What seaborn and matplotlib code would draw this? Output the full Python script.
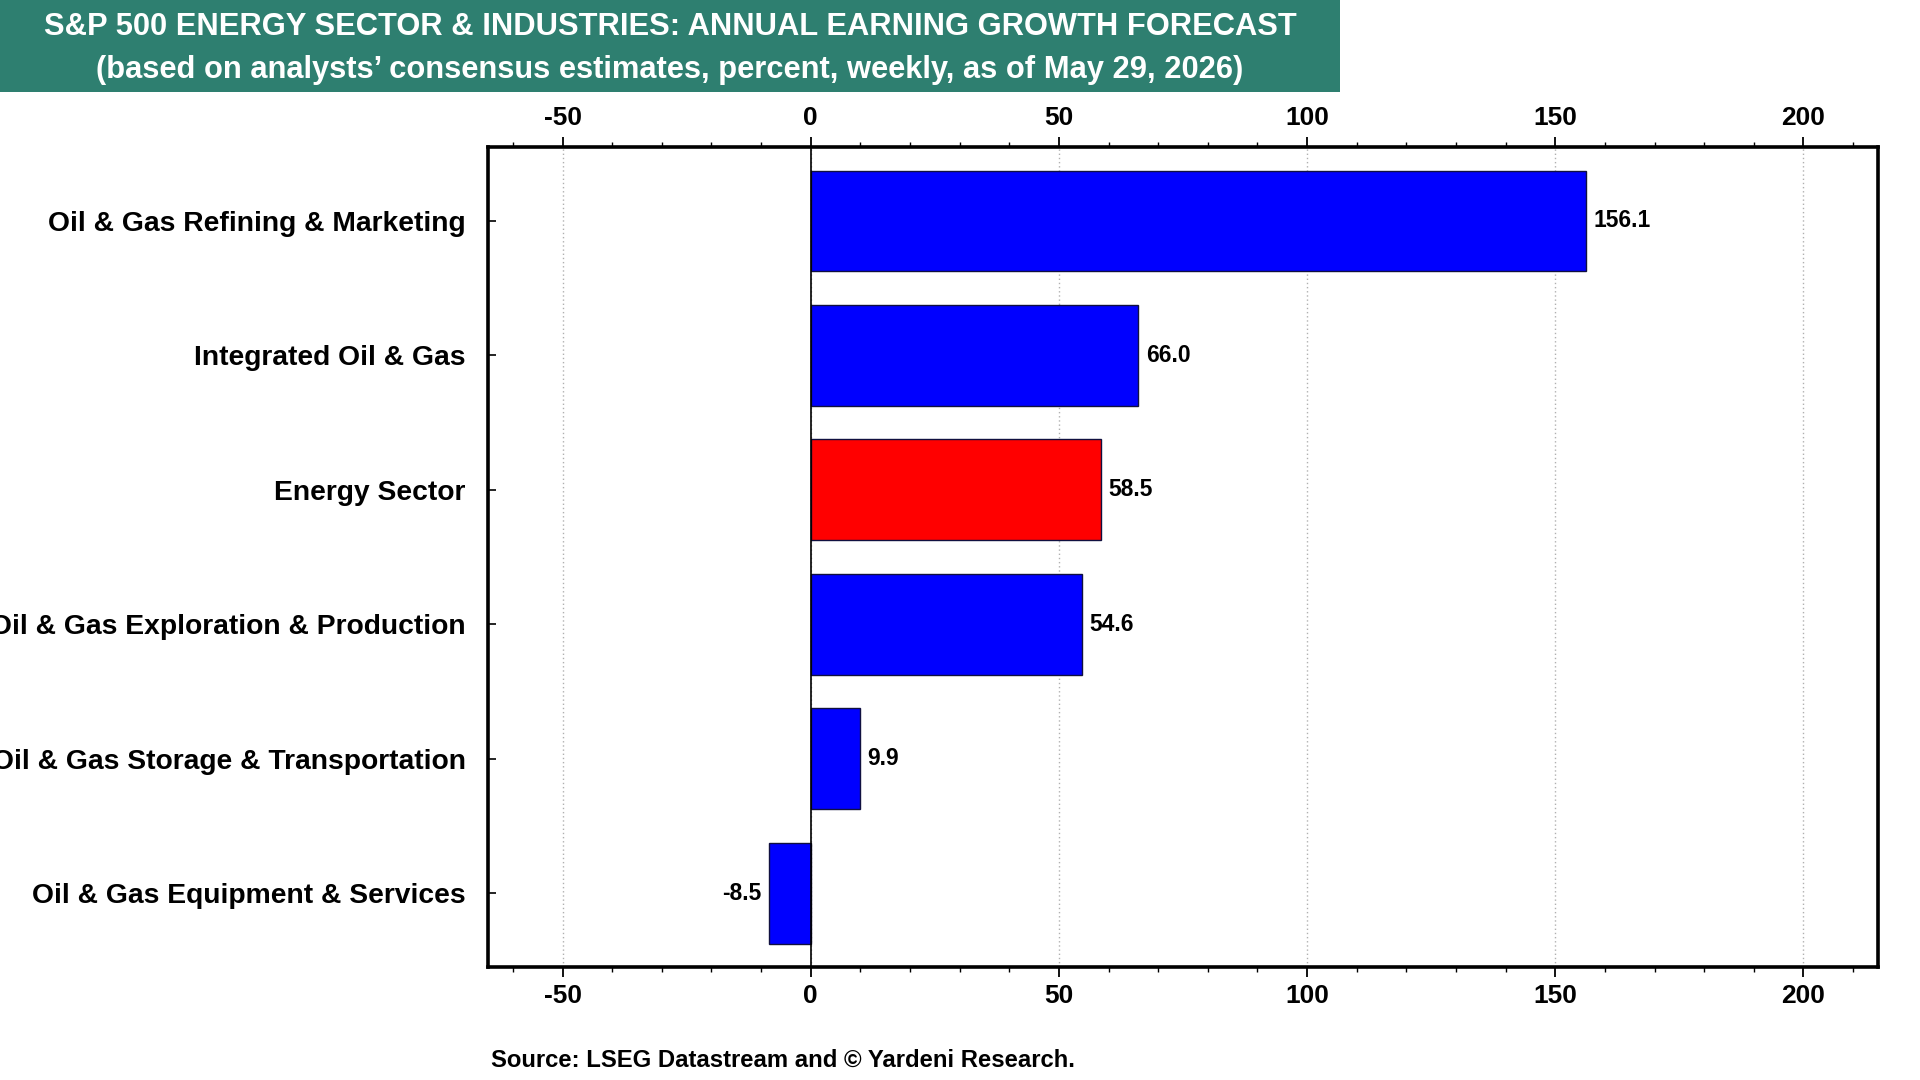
import matplotlib
matplotlib.use('Agg')
import matplotlib.pyplot as plt
import seaborn as sns
import pandas as pd
from matplotlib.patches import Rectangle
from matplotlib.ticker import MultipleLocator

# ---- data ----
categories = [
    "Oil & Gas Refining & Marketing",
    "Integrated Oil & Gas",
    "Energy Sector",
    "Oil & Gas Exploration & Production",
    "Oil & Gas Storage & Transportation",
    "Oil & Gas Equipment & Services",
]
values = [156.1, 66.0, 58.5, 54.6, 9.9, -8.5]
bar_colors = ["#0000FF", "#0000FF", "#FF0000", "#0000FF", "#0000FF", "#0000FF"]
x_ticks = [-50, 0, 50, 100, 150, 200]

title_line1 = "S&P 500 ENERGY SECTOR & INDUSTRIES: ANNUAL EARNING GROWTH FORECAST"
title_line2 = "(based on analysts\u2019 consensus estimates, percent, weekly, as of May 29, 2026)"
source_text = "Source: LSEG Datastream and \u00a9 Yardeni Research."

# ---- style ----
sns.set_theme(style='white')
plt.rcParams['font.family'] = ['Liberation Sans', 'DejaVu Sans']
plt.rcParams['font.weight'] = 'bold'
plt.rcParams['axes.unicode_minus'] = False

fig = plt.figure(figsize=(19.2, 10.8), dpi=100)
fig.patch.set_facecolor('white')

# title banner
fig.patches.append(Rectangle((0, 0.915), 0.698, 0.085, transform=fig.transFigure,
                             facecolor='#2E7F70', edgecolor='none', zorder=0))
fig.text(0.349, 0.975, title_line1, ha='center', va='center', color='white',
         fontsize=22.2, fontweight='bold')
fig.text(0.349, 0.935, title_line2, ha='center', va='center', color='white',
         fontsize=22.2, fontweight='bold')

ax = fig.add_axes([0.2542, 0.1046, 0.7239, 0.7593])
df = pd.DataFrame({'category': categories, 'value': values})
sns.barplot(data=df, x='value', y='category', hue='category', order=categories,
            hue_order=categories, palette=dict(zip(categories, bar_colors)),
            orient='h', width=0.75, dodge=False, saturation=1,
            edgecolor='#101040', linewidth=1, legend=False, ax=ax, zorder=3)

ax.set_xlim(-65, 215)
ax.set_ylim(len(categories) - 0.45, -0.55)
ax.set_xticks(x_ticks)
ax.xaxis.set_minor_locator(MultipleLocator(10))
ax.set_xlabel('')
ax.set_ylabel('')

ax.grid(axis='x', which='major', linestyle=(0, (1, 2)), color='#b0b0b0', linewidth=1, zorder=0)
ax.grid(axis='y', visible=False)
ax.set_axisbelow(True)
ax.axvline(0, color='black', linewidth=1.2, zorder=4)

for sp in ax.spines.values():
    sp.set_visible(True)
    sp.set_color('black')
    sp.set_linewidth(2.6)

ax.tick_params(axis='x', which='both', top=True, bottom=True, labeltop=True,
               labelbottom=True, direction='out', colors='black')
ax.tick_params(axis='x', which='major', length=7, width=1.3, pad=5, labelsize=19)
ax.tick_params(axis='x', which='minor', length=3.5, width=1.0)
ax.tick_params(axis='y', which='major', left=True, direction='in', length=6,
               width=1.2, pad=16, labelsize=20.3, colors='black')
for lbl in ax.get_xticklabels() + ax.get_yticklabels():
    lbl.set_fontweight('bold')

for i, v in enumerate(values):
    if v >= 0:
        ax.annotate(f"{v:.1f}", xy=(v, i), xytext=(5.5, 0), textcoords='offset points',
                    ha='left', va='center', fontsize=16.5, fontweight='bold', color='black')
    else:
        ax.annotate(f"{v:.1f}", xy=(v, i), xytext=(-5.5, 0), textcoords='offset points',
                    ha='right', va='center', fontsize=16.5, fontweight='bold', color='black')

fig.text(0.2557, 0.0185, source_text, ha='left', va='center', fontsize=17.2,
         fontweight='bold', color='black')

fig.savefig('out.png', dpi=100)
